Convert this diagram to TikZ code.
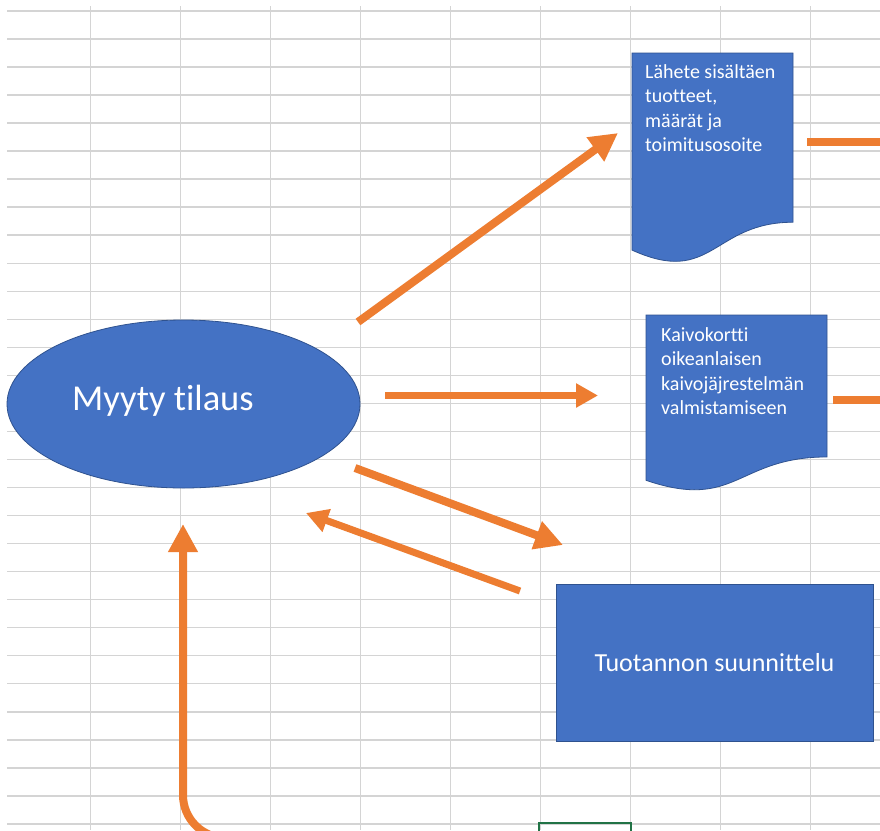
\documentclass[tikz,border=0pt]{standalone}
\usepackage{fontspec}
\setmainfont{Carlito}[Ligatures={NoCommon}]
\usetikzlibrary{arrows.meta,calc,shapes.geometric}
\definecolor{cellline}{HTML}{D4D4D4}
\definecolor{shapefill}{HTML}{4472C4}
\definecolor{shapeedge}{HTML}{2F528F}
\definecolor{flow}{HTML}{ED7D31}
\definecolor{selgreen}{HTML}{217346}
\begin{document}
\begin{tikzpicture}[x=1pt,y=-1pt,
  gridline/.style={draw=cellline, line width=1.5pt},
  shapebox/.style={fill=shapefill, draw=shapeedge, line width=0.8pt},
  docframe/.style={rectangle, inner sep=0pt, outer sep=0pt},
  doctext/.style={text=white, align=left, inner sep=0pt,
    font=\fontsize{20}{24.5}\selectfont},
  flowthick/.style={draw=flow, line width=8pt,
    -{Triangle[length=28pt,width=28pt]}},
  flowthin/.style={draw=flow, line width=7pt,
    -{Triangle[length=22pt,width=23pt]}},
  flowline/.style={draw=flow, line width=8pt},
  % flow-chart "document" outline with its wavy lower edge
  docshape/.style={insert path={
    (#1.north west) -- (#1.north east)
    -- ($(#1.north east)!0.802!(#1.south east)$)
    .. controls ($(#1.north)!0.802!(#1.south)$)
           and ($(#1.north)!1.1075!(#1.south)$)
    .. ($(#1.north west)!0.934!(#1.south west)$) -- cycle}}
]
\useasboundingbox (0,0) rectangle (880,830);
\clip (0,0) rectangle (880,830);
\fill[white] (0,0) rectangle (880,830);

% worksheet cell grid
\foreach \k in {0,...,29}
  \draw[gridline] (7,{11+28.03*\k}) -- (880,{11+28.03*\k});
\foreach \k in {1,...,9}
  \draw[gridline] ({90*\k+0.5},6) -- ({90*\k+0.5},830);

% selected cell
\draw[selgreen, line width=2.5pt] (539,823) rectangle (631,850);

% sold order
\node[shapebox, ellipse, minimum width=353pt, minimum height=168pt,
      inner sep=0pt] (order) at (183.5,404) {};
\node[text=white, inner sep=0pt, anchor=base west,
      font=\fontsize{36.5}{40}\selectfont] (ordertxt)
  at ($(order.center)+(-111.5,6)$) {Myyty tilaus};

% delivery note
\node[docframe, minimum width=161pt, minimum height=211pt,
      anchor=north west] (note) at (632,53) {};
\path[shapebox, docshape=note];
\node[doctext, anchor=north west] (notetxt)
  at ($(note.north west)+(13,11)$)
  {Lähete sisältäen\\tuotteet,\\määrät ja\\toimitusosoite};

% well card
\node[docframe, minimum width=181pt, minimum height=177pt,
      anchor=north west] (card) at (646,315) {};
\path[shapebox, docshape=card];
\node[doctext, anchor=north west] (cardtxt)
  at ($(card.north west)+(15,12)$)
  {Kaivokortti\\oikeanlaisen\\kaivojäjrestelmän\\valmistamiseen};

% production planning
\node[shapebox, minimum width=317pt, minimum height=157pt, inner sep=0pt,
      text=white, font=\fontsize{26}{30}\selectfont] (plan)
  at (714.5,662.5) {Tuotannon suunnittelu};

% connector end points
\coordinate (a1s) at (358,322);   \coordinate (a1e) at (618,133);
\coordinate (a2s) at (385,395.5); \coordinate (a2e) at (598,395.5);
\coordinate (a3s) at (355,468);   \coordinate (a3e) at (563,545);
\coordinate (a4s) at (520,591);   \coordinate (a4e) at (306,513);
\coordinate (a5s) at (320,838);   \coordinate (a5e) at (183,524);
\coordinate (n1s) at (807,141.5); \coordinate (n1e) at (882,141.5);
\coordinate (n2s) at (833,400);   \coordinate (n2e) at (882,400);

% flows
\draw[flowthick] (a1s) -- (a1e);
\draw[flowthin]  (a2s) -- (a2e);
\draw[flowthick] (a3s) -- (a3e);
\draw[flowthin]  (a4s) -- (a4e);
\draw[flowthick, rounded corners=43pt] (a5s) -| (a5e);
\draw[flowline]  (n1s) -- (n1e);
\draw[flowline]  (n2s) -- (n2e);
\end{tikzpicture}
\end{document}
